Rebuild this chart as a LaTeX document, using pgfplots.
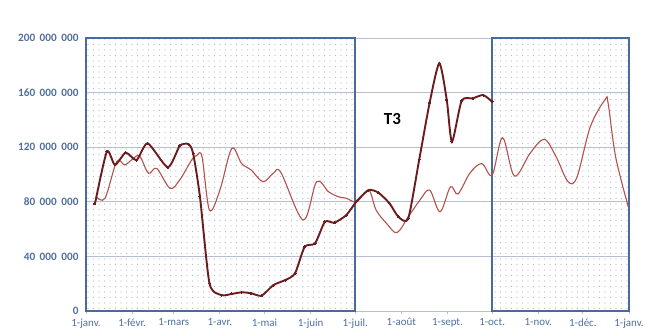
\documentclass[border=0pt]{standalone}
\usepackage{pgfplots}
\pgfplotsset{compat=1.18}
\usepackage{fontspec}
\setmainfont{Carlito}
\usetikzlibrary{patterns.meta}
\definecolor{darkser}{HTML}{6B1C1C}
\definecolor{lightser}{HTML}{B4514C}
\definecolor{frameblue}{HTML}{4A6A9C}
\definecolor{ticklab}{HTML}{4F6F9E}
\definecolor{gridc}{HTML}{B4C0D2}
\definecolor{dotc}{HTML}{AEB9CC}
\begin{document}
\begin{tikzpicture}
\begin{axis}[
  scale only axis,
  width=543bp, height=273bp,
  xmin=0, xmax=365, ymin=0, ymax=200e6,
  axis x line=bottom, axis y line=left,
  axis line style={gridc, line width=0.8pt, -},
  xtick={0,31,59,90,120,151,181,212,243,273,304,334,365},
  xticklabels={1-janv.,1-févr.,1-mars,1-avr.,1-mai,1-juin,1-juil.,1-août,1-sept.,1-oct.,1-nov.,1-déc.,1-janv.},
  ytick={0,40e6,80e6,120e6,160e6,200e6},
  yticklabels={0,40\hspace{0.4em}000\hspace{0.4em}000,80\hspace{0.4em}000\hspace{0.4em}000,120\hspace{0.4em}000\hspace{0.4em}000,160\hspace{0.4em}000\hspace{0.4em}000,200\hspace{0.4em}000\hspace{0.4em}000},
  x tick label style={font=\fontsize{11}{13}\selectfont, text=ticklab, yshift=-1bp},
  y tick label style={font=\fontsize{11.3}{13}\selectfont\bfseries, text=ticklab, xshift=-1bp},
  ymajorgrids, major grid style={gridc, line width=0.7pt},
  xtick style={gridc, line width=0.8pt}, tick align=outside,
  major tick length=3bp, ytick style={draw=none},
  scaled y ticks=false,
  clip=false,
]
\fill[pattern={Dots[distance=5.5bp, radius=0.55bp]}, pattern color=dotc] (axis cs:0,0) rectangle (axis cs:181,200e6);
\fill[pattern={Dots[distance=5.5bp, radius=0.55bp]}, pattern color=dotc] (axis cs:273,0) rectangle (axis cs:365,200e6);
\draw[frameblue, line width=1.7bp] (axis cs:0,0) rectangle (axis cs:181,200e6);
\draw[frameblue, line width=1.7bp] (axis cs:273,0) rectangle (axis cs:365,200e6);

\addplot[lightser, line width=1.1bp, smooth, tension=0.55, no markers] coordinates {
(7,83.7e6)(12.8,82.6e6)(20.6,109.4e6)(26,107e6)(31,111e6)(36,113.5e6)(42,100.9e6)
(47.5,104.5e6)(56.5,89.9e6)(63,96e6)(71,110.6e6)(74.5,114e6)(78,113e6)(83,74e6)
(90,88.6e6)(98,119e6)(104.6,108e6)(111,103.3e6)(119,94.7e6)(126,101e6)(131,101.5e6)
(146,66.7e6)(155,94.7e6)(163,87.4e6)(169.6,83.7e6)(175,82.6e6)(182,80e6)(190,88.6e6)
(195,74e6)(202,64.2e6)(209,57.4e6)(216.6,69e6)(224.5,81.3e6)(231,88.6e6)(238,72.7e6)
(245,91e6)(250,85.7e6)(258,100.9e6)(266,108e6)(273,99.6e6)(280,127e6)(288,98.9e6)
(298.5,115.5e6)(308,125.8e6)(316,113e6)(324,94.7e6)(330,98e6)(339,135e6)(349,155e6)
(351,152e6)(356,113e6)(364.5,76.4e6)
};

\addplot[darkser, line width=1.9bp, smooth, tension=0.4, mark=*, mark size=1bp, mark options={fill=darkser, draw=darkser, line width=0pt}] coordinates {
(6,78.4e6)(14,116.7e6)(19.5,107e6)(26.7,116e6)(34,110.6e6)(41.5,122.8e6)(55,105.3e6)
(63,120.9e6)(68.8,122.3e6)(72,115.5e6)(76.6,83.7e6)(83,20.3e6)(91,11.7e6)(98,12.5e6)
(104.6,13.7e6)(111,13e6)(118,11.2e6)(126,19e6)(134,22.7e6)(140.5,27.6e6)(147,47e6)
(154,49.6e6)(160.6,65.4e6)(167,64.7e6)(175,70.3e6)(182,80.5e6)(190,88.6e6)(196.5,86.7e6)
(204,78.9e6)(210,69e6)(216.6,67.9e6)(224,111e6)(231,152.6e6)(237.5,181.5e6)(242.5,154.6e6)
(246,124e6)(252.5,154e6)(260,155.8e6)(267,158.2e6)(273,153.3e6)
};

\node[font=\fontsize{17}{19}\selectfont\bfseries, text=black] at (axis cs:206,141e6) {T3};
\end{axis}
\pgfresetboundingbox
\path (-86bp,-25bp) rectangle (574bp,311bp);
\end{tikzpicture}
\end{document}
